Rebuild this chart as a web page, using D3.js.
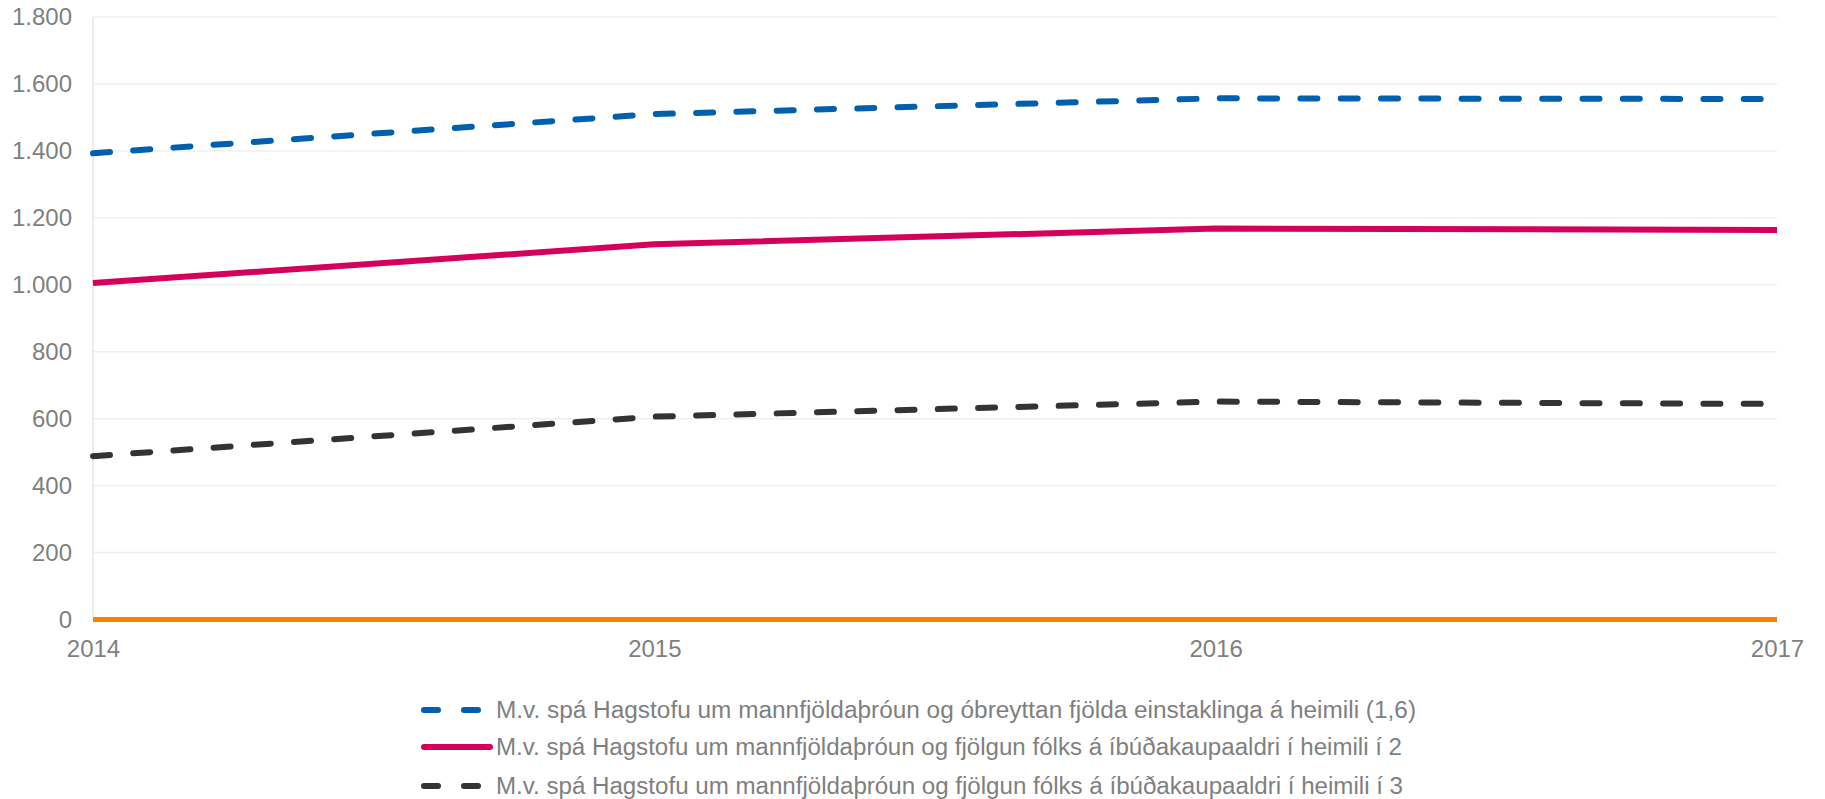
<!DOCTYPE html>
<html lang="is">
<head>
<meta charset="UTF-8">
<title>Spá um íbúðaþörf</title>
<script src="https://d3js.org/d3.v7.min.js"></script>
<style>
    body { margin: 0; background: #fff; }
    text { font-family: "Liberation Sans", Arial, sans-serif; fill: #7f7f7f; }
</style>
</head>
<body>
<div id="chart"></div>
<script>
var years = ["2014", "2015", "2016", "2017"];
var yTicks = [0, 200, 400, 600, 800, 1000, 1200, 1400, 1600, 1800];

var seriesNames = [
    "M.v. spá Hagstofu um mannfjöldaþróun og óbreyttan fjölda einstaklinga á heimili (1,6)",
    "M.v. spá Hagstofu um mannfjöldaþróun og fjölgun fólks á íbúðakaupaaldri í heimili í 2",
    "M.v. spá Hagstofu um mannfjöldaþróun og fjölgun fólks á íbúðakaupaaldri í heimili í 3"
];
var blueValues = [1393, 1510, 1557, 1555];
var pinkValues = [1005, 1121, 1168, 1164];
var darkValues = [488, 606, 651, 644];
var orangeValues = [0, 0, 0, 0];

var width = 1825, height = 799;
var plotLeft = 93, plotRight = 1777, plotTop = 17, plotBottom = 619.5;

var svg = d3.select("#chart").append("svg")
    .attr("width", width)
    .attr("height", height);

var x = d3.scalePoint().domain(years).range([plotLeft, plotRight]);
var y = d3.scaleLinear().domain([0, 1800]).range([plotBottom, plotTop]);

// gridlines
svg.append("g")
    .selectAll("line")
    .data(yTicks.slice(1))
    .enter().append("line")
    .attr("x1", plotLeft).attr("x2", plotRight)
    .attr("y1", function(d) { return y(d); })
    .attr("y2", function(d) { return y(d); })
    .attr("stroke", "#efefef")
    .attr("stroke-width", 1.5);

svg.append("line")
    .attr("x1", plotLeft).attr("x2", plotLeft)
    .attr("y1", plotTop).attr("y2", plotBottom)
    .attr("stroke", "#e6e6e6")
    .attr("stroke-width", 1.5);

// y axis
var yAxis = svg.append("g")
    .attr("transform", "translate(" + plotLeft + ",0)")
    .call(d3.axisLeft(y).tickValues(yTicks).tickSize(0).tickPadding(21)
        .tickFormat(function(d) { return d3.format(",")(d).replace(/,/g, "."); }));
yAxis.select(".domain").remove();
yAxis.selectAll("text")
    .attr("font-size", 24)
    .attr("font-family", "Liberation Sans, Arial, sans-serif")
    .attr("fill", "#7f7f7f");

// x axis
var xAxis = svg.append("g")
    .attr("transform", "translate(0," + plotBottom + ")")
    .call(d3.axisBottom(x).tickSize(0).tickPadding(20));
xAxis.select(".domain").remove();
xAxis.selectAll("text")
    .attr("font-size", 24)
    .attr("font-family", "Liberation Sans, Arial, sans-serif")
    .attr("fill", "#7f7f7f");

var line = d3.line()
    .x(function(d, i) { return x(years[i]); })
    .y(function(d) { return y(d); });

var series = [
    { values: orangeValues, color: "#ff7f00", dash: null, w: 5 },
    { values: darkValues, color: "#333333", dash: "17,23.3", w: 6 },
    { values: pinkValues, color: "#d6005a", dash: null, w: 6 },
    { values: blueValues, color: "#0060ae", dash: "17,23.3", w: 6 }
];

series.forEach(function(s) {
    svg.append("path")
        .datum(s.values)
        .attr("d", line)
        .attr("fill", "none")
        .attr("stroke", s.color)
        .attr("stroke-width", s.w)
        .attr("stroke-dasharray", s.dash)
        .attr("stroke-linecap", s.dash ? "round" : "butt");
});

// legend
var legendItems = [
    { name: seriesNames[0], color: "#0060ae", dash: "14,26", len: 920, y: 710 },
    { name: seriesNames[1], color: "#d6005a", dash: null, len: 906, y: 747 },
    { name: seriesNames[2], color: "#333333", dash: "14,26", len: 907, y: 786 }
];

var legend = svg.selectAll("g.legendg")
    .data(legendItems)
    .enter().append("g")
    .attr("class", "legendg")
    .attr("transform", function(d) { return "translate(0," + d.y + ")"; });

legend.append("line")
    .attr("x1", 424)
    .attr("x2", function(d) { return d.dash ? 478 : 490; })
    .attr("stroke", function(d) { return d.color; })
    .attr("stroke-width", 6)
    .attr("stroke-dasharray", function(d) { return d.dash; })
    .attr("stroke-linecap", "round");

legend.append("text")
    .attr("x", 496)
    .attr("dy", "0.35em")
    .attr("font-size", 23)
    .attr("textLength", function(d) { return d.len; })
    .attr("lengthAdjust", "spacingAndGlyphs")
    .text(function(d) { return d.name; });
</script>
</body>
</html>
